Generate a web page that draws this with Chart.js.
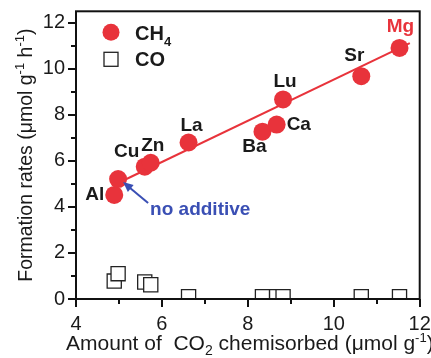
<!DOCTYPE html>
<html><head><meta charset="utf-8">
<script src="https://cdn.jsdelivr.net/npm/chart.js@4.4.1/dist/chart.umd.min.js"></script>
<style>html,body{margin:0;padding:0;background:#fff}#wrap{width:431px;height:358px;position:relative}</style>
</head><body><div id="wrap"><canvas id="c"></canvas></div>
<script>
// ---- data ----
const additives = ['Al', 'no additive', 'Cu', 'Zn', 'La', 'Ba', 'Ca', 'Lu', 'Sr', 'Mg'];
const co2Chemisorbed = [4.89, 4.98, 5.60, 5.74, 6.62, 8.34, 8.67, 8.82, 10.64, 11.53];
const ch4Rates = [4.52, 5.21, 5.75, 5.92, 6.80, 7.27, 7.58, 8.67, 9.68, 10.91];
const coRates = [0.78, 1.10, 0.74, 0.62, 0.10, 0.10, 0.10, 0.10, 0.10, 0.10];
const fitX = [4.98, 11.77];
const fitY = [5.04, 11.12];
const xTicks = [4, 6, 8, 10, 12];
const yTicks = [0, 2, 4, 6, 8, 10, 12];

// ---- styles ----
const FAM = "'Liberation Sans', Arial, sans-serif";
const RED = '#e8333b';
const BLUE = '#3a4fb4';
const INK = '#1a1a1a';

function richWidth(ctx, parts) {
  let w = 0;
  parts.forEach(p => { ctx.font = (p[3] ? 'bold ' : '') + p[1] + 'px ' + FAM; w += ctx.measureText(p[0]).width; });
  return w;
}
function drawRich(ctx, parts, x, y, align) {
  const w = richWidth(ctx, parts);
  let cx = align === 'center' ? x - w / 2 : (align === 'right' ? x - w : x);
  ctx.textAlign = 'left';
  ctx.textBaseline = 'alphabetic';
  parts.forEach(p => {
    ctx.font = (p[3] ? 'bold ' : '') + p[1] + 'px ' + FAM;
    ctx.fillText(p[0], cx, y + p[2]);
    cx += ctx.measureText(p[0]).width;
  });
}

// label offsets relative to each CH4 point (pixels)
const labelPlace = {
  'Al': [-10, 0, 'right'],
  'Cu': [-18, -15, 'center'],
  'Zn': [2, -17, 'center'],
  'La': [3, -17, 'center'],
  'Ba': [-8, 15, 'center'],
  'Ca': [10, 0, 'left'],
  'Lu': [2, -18, 'center'],
  'Sr': [-7, -20, 'center'],
  'Mg': [1, -21, 'center']
};

const decor = {
  id: 'decor',
  afterDatasetsDraw(chart) {
    const {ctx, chartArea: a, scales: {x, y}} = chart;
    ctx.save();
    // frame
    ctx.strokeStyle = '#111';
    ctx.lineWidth = 2;
    ctx.strokeRect(a.left, a.top, a.right - a.left, a.bottom - a.top);
    // ticks (major + minor)
    ctx.lineWidth = 2;
    ctx.beginPath();
    for (let v = x.min; v <= x.max + 1e-9; v += 1) {
      const px = Math.round(x.getPixelForValue(v));
      const len = (v % 2 === 0) ? 8 : 5;
      ctx.moveTo(px, a.bottom); ctx.lineTo(px, a.bottom + len);
    }
    for (let v = 0; v <= 12 + 1e-9; v += 1) {
      const py = Math.round(y.getPixelForValue(v));
      const len = (v % 2 === 0) ? 8 : 5;
      ctx.moveTo(a.left, py); ctx.lineTo(a.left - len, py);
    }
    ctx.stroke();

    // axis titles
    ctx.fillStyle = INK;
    drawRich(ctx, [['Amount of  CO', 21, 0], ['2', 14, 5], [' chemisorbed (\u03bcmol g', 21, 0], ['-1', 13, -8], [')', 21, 0]],
      (a.left + a.right) / 2 + 2, 350, 'center');
    ctx.save();
    ctx.translate(32, (a.top + a.bottom) / 2);
    ctx.rotate(-Math.PI / 2);
    drawRich(ctx, [['Formation rates (\u03bcmol g', 19.5, 0], ['-1', 13, -8], [' h', 19.5, 0], ['-1', 13, -8], [')', 19.5, 0]], 0, 0, 'center');
    ctx.restore();

    // legend
    const lx = a.left + 35, ly = a.top + 21;
    ctx.fillStyle = RED;
    ctx.beginPath(); ctx.arc(lx, ly, 8.5, 0, Math.PI * 2); ctx.fill();
    ctx.fillStyle = INK;
    drawRich(ctx, [['CH', 20, 0, true], ['4', 13, 6, true]], lx + 24, ly + 7.5, 'left');
    ctx.strokeStyle = '#222'; ctx.lineWidth = 1.3;
    ctx.strokeRect(lx - 7, ly + 20, 14, 14);
    drawRich(ctx, [['CO', 20, 0, true]], lx + 24, ly + 34, 'left');

    // point labels
    ctx.font = 'bold 19px ' + FAM;
    ctx.textBaseline = 'middle';
    additives.forEach((name, i) => {
      const px = x.getPixelForValue(co2Chemisorbed[i]);
      const py = y.getPixelForValue(ch4Rates[i]);
      if (labelPlace[name]) {
        const [dx, dy, al] = labelPlace[name];
        ctx.fillStyle = name === 'Mg' ? RED : INK;
        ctx.textAlign = al;
        ctx.fillText(name, px + dx, py + dy);
      } else {
        // annotated "no additive" with arrow
        const tx = px + 30, ty = py + 24, hx = px + 5, hy = py + 3;
        ctx.strokeStyle = BLUE; ctx.fillStyle = BLUE; ctx.lineWidth = 2;
        const ang = Math.atan2(hy - ty, hx - tx);
        ctx.beginPath(); ctx.moveTo(tx, ty);
        ctx.lineTo(hx - 6 * Math.cos(ang), hy - 6 * Math.sin(ang)); ctx.stroke();
        ctx.beginPath();
        ctx.moveTo(hx, hy);
        ctx.lineTo(hx - 10 * Math.cos(ang) + 4.5 * Math.sin(ang), hy - 10 * Math.sin(ang) - 4.5 * Math.cos(ang));
        ctx.lineTo(hx - 10 * Math.cos(ang) - 4.5 * Math.sin(ang), hy - 10 * Math.sin(ang) + 4.5 * Math.cos(ang));
        ctx.closePath(); ctx.fill();
        ctx.textAlign = 'left';
        ctx.textBaseline = 'alphabetic';
        ctx.fillText(name, px + 32, py + 36);
        ctx.textBaseline = 'middle';
      }
    });
    ctx.restore();
  }
};

const tickFont = {family: FAM, size: 20};
new Chart(document.getElementById('c'), {
  type: 'scatter',
  data: {
    datasets: [
      {type: 'line', label: 'fit', data: fitX.map((v, i) => ({x: v, y: fitY[i]})),
        borderColor: RED, borderWidth: 2, pointRadius: 0, fill: false, order: 3},
      {label: 'CO', data: co2Chemisorbed.map((v, i) => ({x: v, y: coRates[i]})),
        pointStyle: 'rect', pointRadius: 10, backgroundColor: '#fff', borderColor: '#222', borderWidth: 1.3, order: 2, clip: 0},
      {label: 'CH4', data: co2Chemisorbed.map((v, i) => ({x: v, y: ch4Rates[i]})),
        pointStyle: 'circle', pointRadius: 9, backgroundColor: RED, borderColor: RED, borderWidth: 0, order: 1}
    ]
  },
  options: {
    responsive: true, maintainAspectRatio: false, animation: false, events: [],
    layout: {padding: {top: 11, right: 11, left: 0, bottom: 0}},
    plugins: {legend: {display: false}, tooltip: {enabled: false}},
    scales: {
      x: {type: 'linear', min: 4, max: 12,
        afterFit: s => { s.height = 59; s.paddingLeft = 0; s.paddingRight = 0; },
        afterBuildTicks: s => { s.ticks = xTicks.map(v => ({value: v})); },
        grid: {display: false, drawTicks: false}, border: {display: false},
        ticks: {font: tickFont, color: INK, padding: 13, maxRotation: 0, autoSkip: false}},
      y: {type: 'linear', min: 0, max: 12.5,
        afterFit: s => { s.width = 76; s.paddingTop = 0; s.paddingBottom = 0; },
        afterBuildTicks: s => { s.ticks = yTicks.map(v => ({value: v})); },
        grid: {display: false, drawTicks: false}, border: {display: false},
        ticks: {font: tickFont, color: INK, padding: 11, autoSkip: false}}
    }
  },
  plugins: [decor]
});
</script>
</body></html>
